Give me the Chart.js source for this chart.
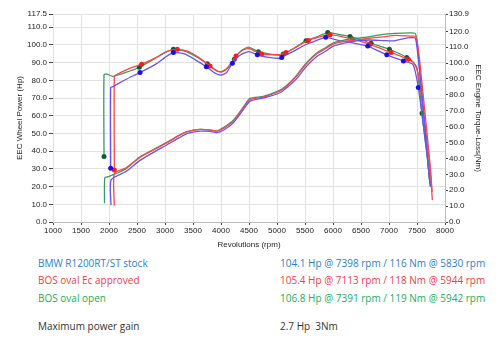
<!DOCTYPE html>
<html>
<head>
<meta charset="utf-8">
<script src="https://cdn.jsdelivr.net/npm/chart.js@4/dist/chart.umd.min.js"></script>
<style>
  html, body { margin: 0; padding: 0; background: #fff; }
  #wrap { position: relative; width: 500px; height: 347px; overflow: hidden; }
  #box { position: absolute; left: 0; top: 0; width: 500px; height: 250px; }
  .row { position: absolute; font-family: "Open Sans", sans-serif; font-size: 10px; white-space: nowrap; line-height: 12px; }
</style>
</head>
<body>
<div id="wrap">
  <div id="box"><canvas id="c"></canvas></div>
  <div class="row" style="left:38px;top:257px;color:#2a7fd0">BMW R1200RT/ST stock</div>
  <div class="row" style="left:280px;top:257px;color:#2a7fd0">104.1 Hp @ 7398 rpm / 116 Nm @ 5830 rpm</div>
  <div class="row" style="left:38px;top:274px;color:#f0404a">BOS oval Ec approved</div>
  <div class="row" style="left:280px;top:274px;color:#f0404a">105.4 Hp @ 7113 rpm / 118 Nm @ 5944 rpm</div>
  <div class="row" style="left:38px;top:292px;color:#20b060">BOS oval open</div>
  <div class="row" style="left:280px;top:292px;color:#20b060">106.8 Hp @ 7391 rpm / 119 Nm @ 5942 rpm</div>
  <div class="row" style="left:38px;top:320px;color:#333">Maximum power gain</div>
  <div class="row" style="left:280px;top:320px;color:#333">2.7 Hp&nbsp;&nbsp;3Nm</div>
</div>
<script>
// ---- tick labels ----
const xTicks = [1000,1500,2000,2500,3000,3500,4000,4500,5000,5500,6000,6500,7000,7500,8000];
const powerTicks = [0,10,20,30,40,50,60,70,80,90,100,110,117.5];
const torqueTicks = [0,10,20,30,40,50,60,70,80,90,100,110,120,130.9];

// ---- BMW R1200RT/ST stock ----
const stockTorqueRpm = [2030,2030,2070,2300,2554,2850,3000,3150,3350,3550,3738,3900,4000,4100,4203,4350,4500,4649,4850,5050,5084,5300,5500,5700,5870,6100,6300,6620,6800,6960,7100,7257,7430,7523,7600,7680,7730];
const stockTorque    = [33.8,84.7,85.2,89.7,94.1,99.7,103.6,106.6,105.8,101.9,97.7,93.6,92.5,94.1,99.9,105.3,107.2,105.2,103.6,102.9,103.6,107.5,111.4,114.2,116.2,114.3,113.1,110.7,107.8,105.2,103.3,101.4,99.1,84.7,64.6,42.3,24.5];
const stockTorqueMarks = [0,4,7,10,14,17,20,24,27,29,31,33];
const stockPowerRpm = [2036,2036,2300,2554,2800,3030,3250,3400,3625,3800,3923,4050,4220,4400,4518,4756,5054,5200,5352,5500,5709,5857,6006,6200,6423,6650,6898,7077,7250,7398,7470,7510,7580,7650,7710,7740];
const stockPower    = [9.5,23.8,28.5,34.8,39.5,43.5,47.5,50,51.3,51.2,50.5,52,56,63.5,68.3,70,73,76.5,81,87,93.5,96.3,99.3,101,102.3,102.8,102.5,102.3,103.5,104.1,103.8,96,75,50,28,20];

// ---- BOS oval Ec approved ----
const ecTorqueRpm = [2095,2095,2130,2350,2583,2850,3050,3220,3400,3600,3804,3950,4020,4120,4268,4400,4500,4727,4900,5050,5161,5350,5560,5750,5947,6150,6345,6500,6660,6850,7037,7200,7346,7450,7520,7600,7680,7740,7774];
const ecTorque    = [32.8,91.6,92.7,96.4,99.3,103.6,107.5,108.7,107.5,103.6,98.1,94.7,94.5,96.9,104.5,108.4,109.1,105.7,105.3,105.4,106.6,110.3,114.3,116.4,117.9,116.7,115.2,113.6,111.7,109.2,106.6,104.5,102.4,99.7,93.6,73.5,50.1,31.2,13.8];
const ecTorqueMarks = [0,4,7,10,14,17,20,22,24,26,28,30,32];
const ecPowerRpm = [2095,2095,2300,2554,2800,3030,3250,3400,3625,3800,3923,4050,4220,4400,4518,4756,5054,5200,5352,5500,5709,5857,6006,6200,6423,6650,6898,7113,7375,7480,7530,7600,7680,7740,7770];
const ecPower    = [9.2,27.5,30.5,36.6,40.8,44.6,48.8,51,52.3,52,51.3,53,57,64.5,69.2,70.6,74,77.5,82.5,88.5,95,97.8,100.5,102,102.8,103.8,104.6,105.4,105,104.8,96,75,50,30,17];

// ---- BOS oval open ----
const openTorqueRpm = [1911,1911,1958,2071,2300,2541,2800,3000,3150,3350,3550,3756,3900,4000,4100,4238,4350,4488,4667,4850,5054,5113,5300,5518,5700,5906,6100,6304,6500,6680,6850,7007,7150,7318,7430,7500,7590,7650,7700,7740];
const openTorque    = [41.2,92.7,93.1,91.7,94.1,97.4,102.5,106.7,108.7,107.5,104.2,99.6,95.6,94.6,96.4,102.4,107.5,110.0,107.2,105.8,104.9,105.7,109.2,114.1,116.4,119.2,118.1,116.7,114.7,112.5,110.6,108.7,106.5,103.6,100.8,96.9,68.4,50.1,36.8,24.5];
const openTorqueMarks = [0,5,8,11,15,18,21,23,25,27,29,31,33,36];
const openPowerRpm = [1920,1925,1990,2100,2300,2554,2800,3030,3250,3400,3625,3800,3923,4050,4220,4400,4518,4756,5054,5200,5352,5500,5709,5857,6006,6200,6423,6650,6898,7100,7375,7470,7510,7560,7620,7680,7720,7740];
const openPower    = [10.6,25,25.6,27,30,36.8,41,45,49,51,52.3,52,51.5,53.5,57.5,65,69.8,71,74.5,78,83,89,95.5,98.3,101.2,102.8,103.8,104.7,106,106.5,106.8,106.5,100,80,60,40,25,20];

const pairs = (xs, ys) => xs.map((x, i) => ({ x: x, y: ys[i] }));

function torqueSet(label, xs, ys, marks, line, dot) {
  return {
    label: label, data: pairs(xs, ys), yAxisID: 'y2',
    borderColor: line, backgroundColor: dot, pointBorderColor: dot,
    borderWidth: 1.3, tension: 0.2,
    pointRadius: ctx => marks.includes(ctx.dataIndex) ? 2.5 : 0,
    pointBorderWidth: 0
  };
}
function powerSet(label, xs, ys, line) {
  return {
    label: label, data: pairs(xs, ys), yAxisID: 'y',
    borderColor: line, backgroundColor: line,
    borderWidth: 1.3, tension: 0.2, pointRadius: 0
  };
}

const tickFont = { family: 'Liberation Sans, Arial, sans-serif', size: 8 };
const fixTicks = vals => (scale) => { scale.ticks = vals.map(v => ({ value: v })); };

new Chart(document.getElementById('c'), {
  type: 'scatter',
  data: {
    datasets: [
      powerSet('BMW R1200RT/ST stock Hp', stockPowerRpm, stockPower, '#6a52f2'),
      powerSet('BOS oval Ec approved Hp', ecPowerRpm, ecPower, '#ff4545'),
      powerSet('BOS oval open Hp', openPowerRpm, openPower, '#3a9a60'),
      torqueSet('BMW R1200RT/ST stock Nm', stockTorqueRpm, stockTorque, stockTorqueMarks, '#6a52f2', '#1a10e0'),
      torqueSet('BOS oval Ec approved Nm', ecTorqueRpm, ecTorque, ecTorqueMarks, '#ff4545', '#ff1a1a'),
      torqueSet('BOS oval open Nm', openTorqueRpm, openTorque, openTorqueMarks, '#3a9a60', '#0b5e2c')
    ]
  },
  options: {
    responsive: true, maintainAspectRatio: false, animation: false,
    showLine: true,
    layout: { padding: { top: 14, left: 15, right: 17, bottom: 0 } },
    plugins: { legend: { display: false }, tooltip: { enabled: false } },
    scales: {
      x: {
        type: 'linear', min: 1000, max: 8000,
        afterBuildTicks: fixTicks(xTicks),
        afterFit: s => { s.height = 28; },
        grid: { color: '#e2e2e2', tickColor: '#444', tickLength: 3 },
        border: { color: '#bbb' },
        ticks: { font: tickFont, color: '#222', maxRotation: 0, autoSkip: false, padding: 1, callback: v => String(v) },
        title: { display: true, text: 'Revolutions (rpm)', font: tickFont, color: '#222', padding: { top: 0, bottom: 0 } }
      },
      y: {
        position: 'left', min: 0, max: 117.5,
        afterBuildTicks: fixTicks(powerTicks),
        afterFit: s => { s.width = 38; },
        grid: { color: '#e2e2e2', tickColor: '#444', tickLength: 4 },
        border: { color: '#e2e2e2' },
        ticks: { font: tickFont, color: '#222', padding: 2, callback: v => v.toFixed(1) },
        title: { display: true, text: 'EEC Wheel Power (Hp)', font: tickFont, color: '#222', padding: { top: 0, bottom: 0 } }
      },
      y2: {
        position: 'right', min: 0, max: 130.9,
        afterBuildTicks: fixTicks(torqueTicks),
        afterFit: s => { s.width = 38; },
        grid: { drawOnChartArea: false, tickColor: '#444', tickLength: 3 },
        border: { color: '#bbb' },
        ticks: { font: tickFont, color: '#222', padding: 1, callback: v => v.toFixed(1) },
        title: { display: true, text: 'EEC Engine Torque-Loss(Nm)', font: tickFont, color: '#222', padding: { top: 0, bottom: 0 } }
      }
    }
  }
});
</script>
</body>
</html>
